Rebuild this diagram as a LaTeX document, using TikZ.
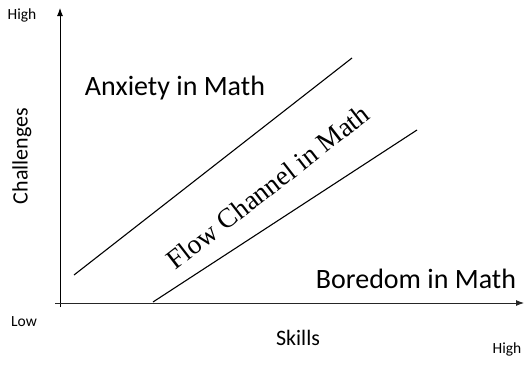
\documentclass[tikz,border=0pt]{standalone}
\usepackage{fontspec}
\setmainfont{Carlito}
\newfontfamily\flowfont{Liberation Serif}
\usetikzlibrary{arrows.meta}
\tikzset{
  axis/.style={line width=0.9pt, -{Latex[length=8pt,width=6pt]}},
  band/.style={line width=1.1pt},
  small/.style={font=\fontsize{15.5}{18}\selectfont, inner sep=0pt},
  axlabel/.style={font=\fontsize{22}{26}\selectfont, inner sep=0pt},
  region/.style={font=\fontsize{28}{32}\selectfont, inner sep=0pt},
}
\begin{document}
\begin{tikzpicture}[x=1pt,y=-1pt]
\useasboundingbox (0,0) rectangle (527,378);
% axes
\coordinate (yb) at (60,307);
\coordinate (yt) at (60,8);
\coordinate (xl) at (55,303);
\coordinate (xr) at (524,303);
\draw[axis] (yb) -- (yt);
\draw[axis, black!85] (xl) -- (xr);
% channel boundaries
\coordinate (u1) at (74,275);
\coordinate (u2) at (352,58);
\coordinate (l1) at (153,302);
\coordinate (l2) at (417,130);
\draw[band] (u1) -- (u2);
\draw[band] (l1) -- (l2);
% labels
\node[small] (hy) at (22,15) {High};
\node[small] (lo) at (24,322) {Low};
\node[small] (hx) at (507,349) {High};
\node[axlabel] (sk) at (298,338) {Skills};
\node[axlabel, rotate=90] (ch) at (22,156) {Challenges};
\node[region] (anx) at (175,88) {Anxiety in Math};
\node[region] (bor) at (416,279) {Boredom in Math};
\node[font=\flowfont\fontsize{27.5}{30}\selectfont, inner sep=0pt, rotate=37.8] (flow) at (268,187) {Flow Channel in Math};
\end{tikzpicture}
\end{document}
